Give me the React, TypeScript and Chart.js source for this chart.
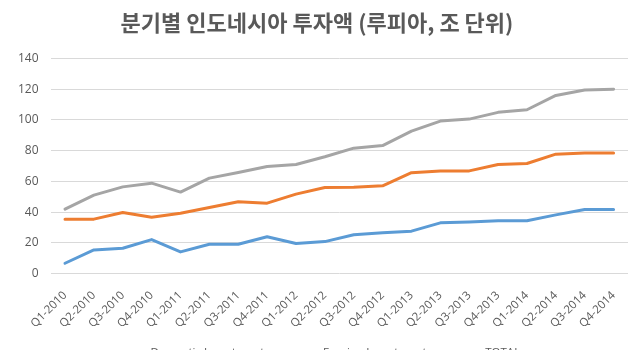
import React, { useEffect, useRef } from "react";
import { Chart, registerables } from "chart.js";

Chart.register(...registerables);

const categories = [
  "Q1-2010", "Q2-2010", "Q3-2010", "Q4-2010",
  "Q1-2011", "Q2-2011", "Q3-2011", "Q4-2011",
  "Q1-2012", "Q2-2012", "Q3-2012", "Q4-2012",
  "Q1-2013", "Q2-2013", "Q3-2013", "Q4-2013",
  "Q1-2014", "Q2-2014", "Q3-2014", "Q4-2014",
];

const domestic = [6.7, 15.4, 16.5, 22.1, 14.1, 19.1, 19.1, 23.9, 19.5, 20.8, 25.2, 26.5, 27.6, 33.0, 33.6, 34.3, 34.3, 38.2, 41.7, 41.7];
const foreign = [35.4, 35.4, 39.7, 36.7, 39.3, 43.0, 46.7, 45.8, 51.7, 56.0, 56.2, 57.1, 65.6, 66.8, 66.8, 71.0, 71.6, 77.7, 78.4, 78.4];
const total = [41.9, 51.0, 56.4, 58.8, 53.0, 62.1, 65.8, 69.7, 71.0, 76.0, 81.6, 83.3, 92.7, 99.2, 100.5, 104.9, 106.6, 115.9, 119.4, 120.0];

const seriesNames = ["Domestic Investment", "Foreign Investment", "TOTAL"];
const titleText = "분기별 인도네시아 투자액 (루피아, 조 단위)";

const yMin = 0;
const yMax = 140;
const yStep = 20;

const colors = ["#5B9BD5", "#ED7D31", "#A5A5A5"];
const textColor = "#595959";
const gridColor = "#D9D9D9";
const baseFont = "'Open Sans', 'Liberation Sans', sans-serif";

const CANVAS_H = 368;

// lets the x-axis tick labels extend below the (trimmed) axis box without being clipped
const unclipXLabels = {
  id: "unclipXLabels",
  afterLayout(chart: any) {
    const x = chart.scales.x;
    if (x) x.bottom = chart.height;
  },
};

export default function App() {
  const canvasRef = useRef<HTMLCanvasElement | null>(null);

  useEffect(() => {
    document.body.style.margin = "0";
    const canvas = canvasRef.current;
    if (!canvas) return;
    const seriesData = [domestic, foreign, total];
    const chart = new Chart(canvas, {
      type: "line",
      plugins: [unclipXLabels],
      data: {
        labels: categories,
        datasets: seriesData.map((d, i) => ({
          label: seriesNames[i],
          data: d,
          borderColor: colors[i],
          backgroundColor: colors[i],
          borderWidth: 3,
          pointRadius: 0,
          pointHoverRadius: 0,
          tension: 0,
          fill: false,
          borderJoinStyle: "round" as const,
          borderCapStyle: "round" as const,
        })),
      },
      options: {
        responsive: false,
        animation: false,
        layout: { autoPadding: false, padding: { left: 6, right: 12, top: 0, bottom: 0 } },
        plugins: {
          title: {
            display: true,
            text: titleText,
            color: textColor,
            font: { family: "'Noto Sans CJK KR', sans-serif", size: 22, weight: "bold" },
            padding: { top: 9, bottom: 23 },
          },
          legend: {
            position: "bottom",
            labels: {
              color: textColor,
              font: { family: baseFont, size: 11.5 },
              boxWidth: 31,
              boxHeight: 3,
              padding: 22,
              generateLabels: (ch: any) => {
                const base = (Chart.defaults.plugins.legend.labels as any).generateLabels(ch);
                return base.map((l: any, i: number) => ({ ...l, lineWidth: 0, fillStyle: colors[i], strokeStyle: colors[i] }));
              },
            },
          },
          tooltip: { enabled: false },
        },
        scales: {
          x: {
            offset: true,
            grid: {
              display: true,
              drawOnChartArea: false,
              drawTicks: true,
              tickLength: 12,
              color: "rgba(0,0,0,0)",
            },
            border: { display: false },
            ticks: {
              color: textColor,
              font: { family: baseFont, size: 11.5 },
              minRotation: 45,
              maxRotation: 45,
              autoSkip: false,
              padding: 3,
            },
            afterFit: (scale: any) => {
              scale.height -= 9;
              scale.paddingLeft = 0;
              scale.paddingRight = 0;
            },
          },
          y: {
            min: yMin,
            max: yMax,
            grid: { color: gridColor, drawTicks: false },
            border: { display: false },
            ticks: {
              stepSize: yStep,
              color: textColor,
              font: { family: baseFont, size: 12 },
              padding: 12,
            },
          },
        },
      },
    });
    return () => chart.destroy();
  }, []);

  return (
    <div style={{ position: "absolute", left: 0, top: 0, width: 640, height: CANVAS_H }}>
      <canvas ref={canvasRef} width={640} height={CANVAS_H} />
    </div>
  );
}
